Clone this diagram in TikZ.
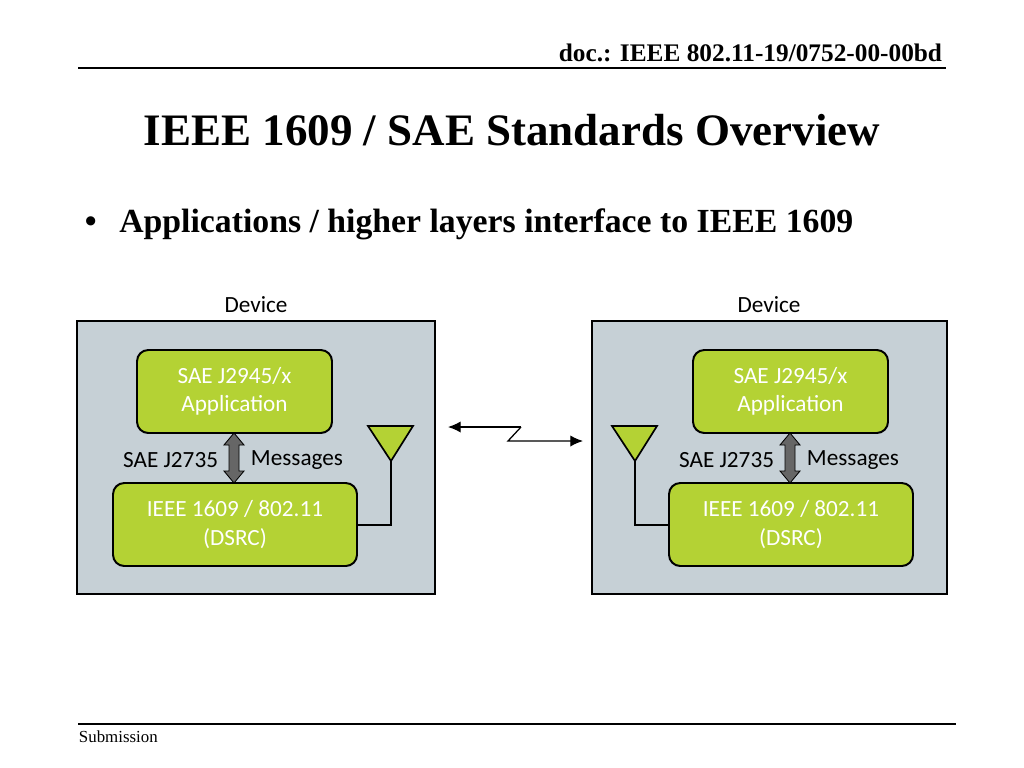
\documentclass[tikz,border=0pt]{standalone}
\usepackage{fontspec}
\usetikzlibrary{arrows.meta}
\setmainfont{Liberation Serif}
\newfontfamily\carlfont{Carlito}
\begin{document}
\begin{tikzpicture}[x=0.025cm,y=-0.025cm,
  dev/.style={draw=black,line width=1.4pt,fill=devgray},
  gbox/.style={draw=black,line width=1.4pt,fill=lgreen,rounded corners=8pt},
  gtxt/.style={text=white,align=center,font=\carlfont\fontsize{16.5}{20}\selectfont},
  lbl/.style={font=\carlfont\fontsize{16.5}{19}\selectfont},
  dbl/.style={draw=black,fill=gray!80!black,line width=0.6pt},
  ant/.style={draw=black,line width=1.2pt,fill=lgreen},
  lnk/.style={line width=0.9pt,-{Latex[length=9pt,width=8pt]}}]
\definecolor{devgray}{HTML}{C6D0D6}
\definecolor{lgreen}{HTML}{B4D234}
\useasboundingbox (0,0) rectangle (1024,768);
\node[anchor=east,font=\bfseries\fontsize{18}{20}\selectfont] (hdr) at (947,53) {doc.: IEEE 802.11-19/0752-00-00bd};
\draw[line width=0.8pt] (78,68) -- (946,68);
\node[font=\bfseries\fontsize{32}{36}\selectfont] (title) at (512,130) {IEEE 1609 / SAE Standards Overview};
\node[anchor=west,font=\bfseries\fontsize{24}{28}\selectfont] (bul) at (80,224) {\textbullet\hspace{16pt}Applications / higher layers interface to IEEE 1609};
\draw[line width=0.8pt] (78,724) -- (956,724);
\node[anchor=west,font=\fontsize{12}{14}\selectfont] (sub) at (74,737) {Submission};
% left device
\node[lbl] (dl) at (256,305) {Device};
\filldraw[dev] (77,321) rectangle (435,594);
\draw[gbox] (137,350) rectangle (332,433);
\node[gtxt] (appLt) at (234.5,391.5) {SAE J2945/x\\Application};
\draw[gbox] (113,483) rectangle (357,566);
\node[gtxt] (dsL) at (235,524.5) {IEEE 1609 / 802.11\\(DSRC)};
\draw[dbl] (234,433) -- (244,445) -- (239,445) -- (239,471) -- (244,471) -- (234,483) -- (224,471) -- (229,471) -- (229,445) -- (224,445) -- cycle;
\node[lbl,anchor=east] (jL) at (223,460) {SAE J2735};
\node[lbl,anchor=west] (mL) at (246,460) {Messages};
\draw[line width=0.9pt] (357,525) -- (391,525) -- (391,461);
\draw[ant] (368,426) -- (413,426) -- (391,461) -- cycle;
% right device
\node[lbl] (dr) at (769,305) {Device};
\filldraw[dev] (592,321) rectangle (947,594);
\draw[gbox] (693,350) rectangle (888,433);
\node[gtxt] (appRt) at (790.5,391.5) {SAE J2945/x\\Application};
\draw[gbox] (669,483) rectangle (913,566);
\node[gtxt] (dsR) at (791,524.5) {IEEE 1609 / 802.11\\(DSRC)};
\draw[dbl] (790,433) -- (800,445) -- (795,445) -- (795,471) -- (800,471) -- (790,483) -- (780,471) -- (785,471) -- (785,445) -- (780,445) -- cycle;
\node[lbl,anchor=east] (jR) at (779,460) {SAE J2735};
\node[lbl,anchor=west] (mR) at (802,460) {Messages};
\draw[line width=0.9pt] (669,525) -- (635,525) -- (635,461);
\draw[ant] (612,426) -- (657,426) -- (635,461) -- cycle;
% link
\coordinate (la) at (448,427);
\coordinate (ra) at (583,441);
\draw[lnk] (521,427) -- (la);
\draw[lnk] (521,427) -- (508,441) -- (ra);
\end{tikzpicture}
\end{document}
